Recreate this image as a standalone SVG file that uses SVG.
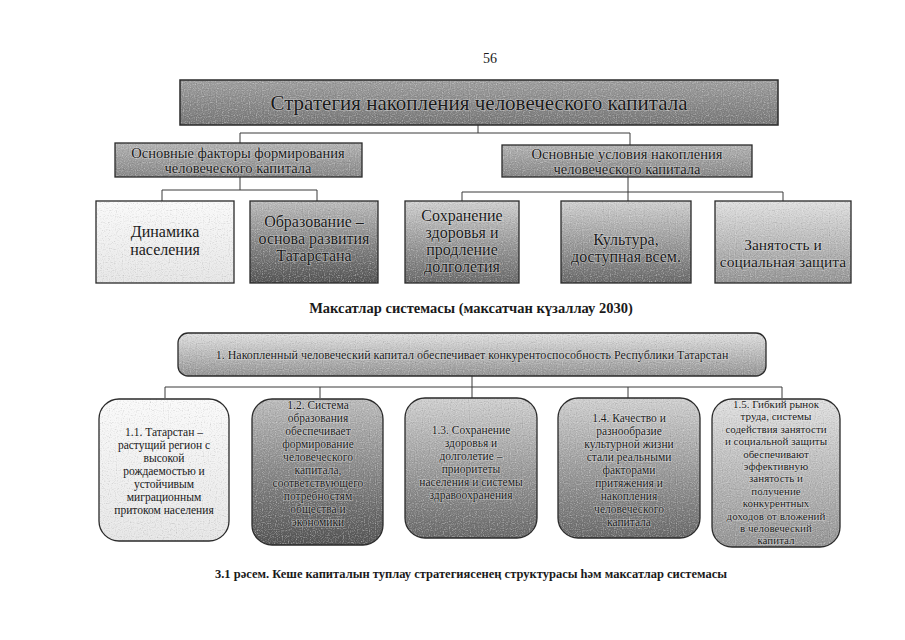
<svg xmlns="http://www.w3.org/2000/svg" width="905" height="640" viewBox="0 0 905 640">
<style>
  text { font-family: "Liberation Serif", "Times New Roman", serif; fill: #1a1a1a; text-anchor: middle; }
  .halo { stroke: #f2f2f2; stroke-width: 1.2; stroke-opacity: 0.5; paint-order: stroke; }
  .box { stroke: #2a2a2a; stroke-width: 1.3; }
  .conn { fill: none; stroke: #3a3a3a; stroke-width: 1; }
  .t12 { font-size: 11.5px; }
  .t11 { font-size: 11px; }
  .t16 { font-size: 16px; }
  .t14 { font-size: 14.5px; }
  .bold { font-weight: bold; }
</style>
<defs>
  <linearGradient id="gTitle" x1="0" y1="0" x2="0" y2="1">
    <stop offset="0" stop-color="#a0a0a0"/>
    <stop offset="1" stop-color="#787878"/>
  </linearGradient>
  <linearGradient id="gSub" x1="0" y1="0" x2="0" y2="1">
    <stop offset="0" stop-color="#b4b4b4"/>
    <stop offset="1" stop-color="#888888"/>
  </linearGradient>
  <linearGradient id="gLight" x1="0" y1="0" x2="0" y2="1">
    <stop offset="0" stop-color="#fafafa"/>
    <stop offset="1" stop-color="#e6e6e6"/>
  </linearGradient>
  <linearGradient id="gDark" x1="0" y1="0" x2="0" y2="1">
    <stop offset="0" stop-color="#bcbcbc"/>
    <stop offset="1" stop-color="#555555"/>
  </linearGradient>
  <linearGradient id="gMid" x1="0" y1="0" x2="0" y2="1">
    <stop offset="0" stop-color="#d0d0d0"/>
    <stop offset="1" stop-color="#6a6a6a"/>
  </linearGradient>
  <linearGradient id="gPale" x1="0" y1="0" x2="0" y2="1">
    <stop offset="0" stop-color="#e0e0e0"/>
    <stop offset="1" stop-color="#959595"/>
  </linearGradient>
  <filter id="grain" x="0" y="0" width="100%" height="100%">
    <feTurbulence type="fractalNoise" baseFrequency="0.85" numOctaves="1" seed="3" result="n"/>
    <feColorMatrix in="n" type="saturate" values="0" result="ng"/>
    <feBlend in="SourceGraphic" in2="ng" mode="overlay" result="b"/>
    <feComposite in="b" in2="SourceGraphic" operator="in"/>
  </filter>
</defs>

<text x="490" y="63" style="font-size:14px">56</text>

<g id="connectors">
  <path class="conn" d="M478 125 V133 M240 133 H630 M240 133 V143 M630 133 V145"/>
  <path class="conn" d="M240 177 V190 M162 190 H317 M162 190 V201 M317 190 V201"/>
  <path class="conn" d="M628 177 V192 M462 192 H783 M462 192 V201 M628 192 V201 M783 192 V201"/>
  <path class="conn" d="M472 376 V387 M165 387 H782 M165 387 V398 M320 387 V398 M472 387 V398 M628 387 V398 M782 387 V398"/>
</g>

<g id="title">
  <rect x="180" y="80" width="598" height="45" fill="url(#gTitle)" filter="url(#grain)"/>
  <rect x="180" y="80" width="598" height="45" fill="none" stroke="#2a2a2a" stroke-width="1.5"/>
  <text class="halo" x="479" y="110" style="font-size:21px">Стратегия накопления человеческого капитала</text>
</g>

<g id="sub-factors">
  <rect x="115" y="143" width="247" height="34" fill="url(#gSub)" filter="url(#grain)"/>
  <rect class="box" x="115" y="143" width="247" height="34" fill="none"/>
  <text class="halo t14" x="238" y="158">Основные факторы формирования</text>
  <text class="halo t14" x="238" y="173">человеческого капитала</text>
</g>

<g id="sub-conditions">
  <rect x="502" y="145" width="250" height="32" fill="url(#gSub)" filter="url(#grain)"/>
  <rect class="box" x="502" y="145" width="250" height="32" fill="none"/>
  <text class="halo t14" x="627" y="159">Основные условия накопления</text>
  <text class="halo t14" x="627" y="174">человеческого капитала</text>
</g>

<g id="n-dynamics">
  <rect x="96" y="201" width="138" height="82" fill="url(#gLight)" filter="url(#grain)"/>
  <rect class="box" x="96" y="201" width="138" height="82" fill="none"/>
  <text class="t16" x="165" y="237">Динамика</text>
  <text class="t16" x="165" y="255">населения</text>
</g>

<g id="n-education">
  <rect x="250" y="201" width="128" height="82" fill="url(#gDark)" filter="url(#grain)"/>
  <rect class="box" x="250" y="201" width="128" height="82" fill="none"/>
  <text class="halo t16" x="314" y="227">Образование –</text>
  <text class="halo t16" x="314" y="244">основа развития</text>
  <text class="halo t16" x="314" y="261">Татарстана</text>
</g>

<g id="n-health">
  <rect x="405" y="201" width="114" height="82" fill="url(#gMid)" filter="url(#grain)"/>
  <rect class="box" x="405" y="201" width="114" height="82" fill="none"/>
  <text class="halo t16" x="462" y="221">Сохранение</text>
  <text class="halo t16" x="462" y="238">здоровья и</text>
  <text class="halo t16" x="462" y="255">продление</text>
  <text class="halo t16" x="462" y="272">долголетия</text>
</g>

<g id="n-culture">
  <rect x="561" y="201" width="130" height="82" fill="url(#gMid)" filter="url(#grain)"/>
  <rect class="box" x="561" y="201" width="130" height="82" fill="none"/>
  <text class="halo t16" x="626" y="245">Культура,</text>
  <text class="halo t16" x="626" y="262">доступная всем.</text>
</g>

<g id="n-employment">
  <rect x="715" y="201" width="136" height="82" fill="url(#gPale)" filter="url(#grain)"/>
  <rect class="box" x="715" y="201" width="136" height="82" fill="none"/>
  <text class="halo" x="783" y="250" style="font-size:15.5px">Занятость и</text>
  <text class="halo" x="783" y="267" style="font-size:15.5px">социальная защита</text>
</g>

<text class="bold" x="471" y="313" style="font-size:14.5px">Максатлар системасы (максатчан күзаллау 2030)</text>

<g id="goal-1">
  <rect x="178" y="333" width="588" height="43" rx="10" fill="url(#gPale)" filter="url(#grain)"/>
  <rect class="box" x="178" y="333" width="588" height="43" rx="10" fill="none"/>
  <text class="halo" x="472" y="359" style="font-size:12px">1. Накопленный человеческий капитал обеспечивает конкурентоспособность Республики Татарстан</text>
</g>

<g id="goal-1-1">
  <rect x="99" y="399" width="130" height="142" rx="20" fill="url(#gLight)" filter="url(#grain)"/>
  <rect class="box" x="99" y="399" width="130" height="142" rx="20" fill="none"/>
  <text class="t12" x="164" y="436">1.1. Татарстан –</text>
  <text class="t12" x="164" y="449">растущий регион с</text>
  <text class="t12" x="164" y="462">высокой</text>
  <text class="t12" x="164" y="475">рождаемостью и</text>
  <text class="t12" x="164" y="488">устойчивым</text>
  <text class="t12" x="164" y="501">миграционным</text>
  <text class="t12" x="164" y="514">притоком населения</text>
</g>

<g id="goal-1-2">
  <rect x="252" y="399" width="131" height="146" rx="20" fill="url(#gDark)" filter="url(#grain)"/>
  <rect class="box" x="252" y="399" width="131" height="146" rx="20" fill="none"/>
  <text class="halo t12" x="318" y="409">1.2. Система</text>
  <text class="halo t12" x="318" y="422">образования</text>
  <text class="halo t12" x="318" y="435">обеспечивает</text>
  <text class="halo t12" x="318" y="448">формирование</text>
  <text class="halo t12" x="318" y="461">человеческого</text>
  <text class="halo t12" x="318" y="474">капитала,</text>
  <text class="halo t12" x="318" y="487">соответствующего</text>
  <text class="halo t12" x="318" y="500">потребностям</text>
  <text class="halo t12" x="318" y="513">общества и</text>
  <text class="halo t12" x="318" y="526">экономики</text>
</g>

<g id="goal-1-3">
  <rect x="405" y="398" width="132" height="140" rx="20" fill="url(#gMid)" filter="url(#grain)"/>
  <rect class="box" x="405" y="398" width="132" height="140" rx="20" fill="none"/>
  <text class="halo t12" x="471" y="434">1.3. Сохранение</text>
  <text class="halo t12" x="471" y="447">здоровья и</text>
  <text class="halo t12" x="471" y="460">долголетие –</text>
  <text class="halo t12" x="471" y="473">приоритеты</text>
  <text class="halo t12" x="471" y="486">населения и системы</text>
  <text class="halo t12" x="471" y="499">здравоохранения</text>
</g>

<g id="goal-1-4">
  <rect x="558" y="398" width="142" height="140" rx="20" fill="url(#gMid)" filter="url(#grain)"/>
  <rect class="box" x="558" y="398" width="142" height="140" rx="20" fill="none"/>
  <text class="halo t12" x="629" y="422">1.4. Качество и</text>
  <text class="halo t12" x="629" y="435">разнообразие</text>
  <text class="halo t12" x="629" y="448">культурной жизни</text>
  <text class="halo t12" x="629" y="461">стали реальными</text>
  <text class="halo t12" x="629" y="474">факторами</text>
  <text class="halo t12" x="629" y="487">притяжения и</text>
  <text class="halo t12" x="629" y="500">накопления</text>
  <text class="halo t12" x="629" y="513">человеческого</text>
  <text class="halo t12" x="629" y="526">капитала</text>
</g>

<g id="goal-1-5">
  <rect x="712" y="399" width="128" height="148" rx="20" fill="url(#gPale)" filter="url(#grain)"/>
  <rect class="box" x="712" y="399" width="128" height="148" rx="20" fill="none"/>
  <text class="halo t11" x="776" y="408">1.5. Гибкий рынок</text>
  <text class="halo t11" x="776" y="420.4">труда, системы</text>
  <text class="halo t11" x="776" y="432.8">содействия занятости</text>
  <text class="halo t11" x="776" y="445.2">и социальной защиты</text>
  <text class="halo t11" x="776" y="457.6">обеспечивают</text>
  <text class="halo t11" x="776" y="470">эффективную</text>
  <text class="halo t11" x="776" y="482.4">занятость и</text>
  <text class="halo t11" x="776" y="494.8">получение</text>
  <text class="halo t11" x="776" y="507.2">конкурентных</text>
  <text class="halo t11" x="776" y="519.6">доходов от вложений</text>
  <text class="halo t11" x="776" y="532">в человеческий</text>
  <text class="halo t11" x="776" y="544.4">капитал</text>
</g>

<text class="bold" x="471" y="578" style="font-size:12.5px">3.1 рәсем. Кеше капиталын туплау стратегиясенең структурасы һәм максатлар системасы</text>
</svg>
